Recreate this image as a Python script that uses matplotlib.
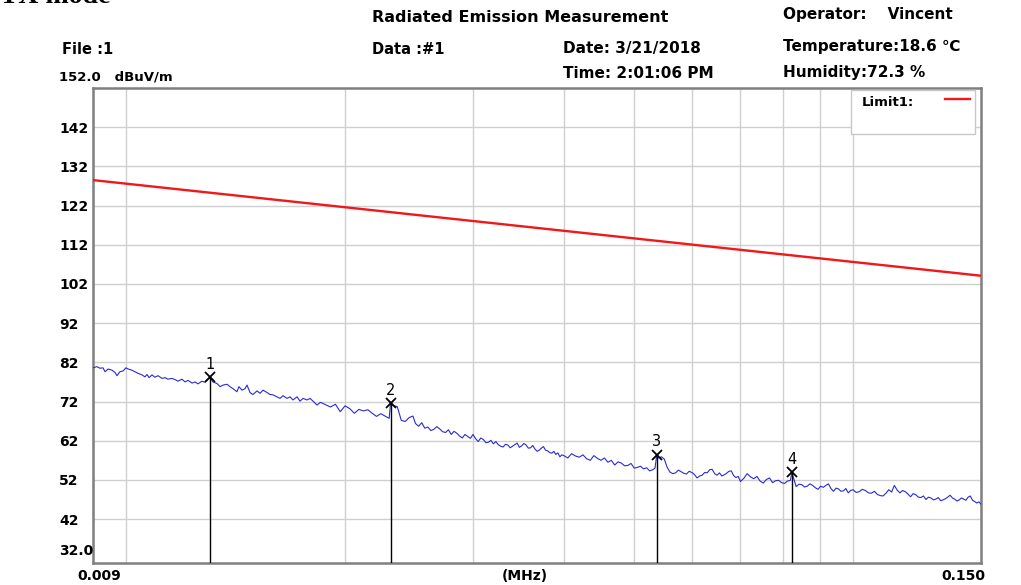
""" Radiated emission scan, 9 kHz - 150 kHz """

import matplotlib
matplotlib.use("Agg")
from matplotlib import pyplot as plt
from matplotlib.ticker import NullLocator
from matplotlib.patches import Rectangle
from matplotlib.lines import Line2D

W, H = 1021, 585

traceKHz = [
  9.00, 9.11, 9.20, 9.29, 9.35, 9.44, 9.56, 9.65, 9.71, 9.80,
  9.90, 9.99, 10.06, 10.18, 10.28, 10.38, 10.51, 10.61, 10.68, 10.75,
  10.85, 10.95, 11.06, 11.20, 11.31, 11.41, 11.56, 11.67, 11.78, 11.93,
  12.05, 12.16, 12.32, 12.43, 12.55, 12.71, 12.83, 12.96, 13.04, 13.16,
  13.33, 13.46, 13.59, 13.76, 13.89, 14.02, 14.20, 14.29, 14.43, 14.57,
  14.66, 14.80, 14.94, 15.13, 15.28, 15.42, 15.62, 15.77, 15.92, 16.12,
  16.28, 16.43, 16.64, 16.80, 16.96, 17.18, 17.34, 17.51, 17.73, 17.90,
  18.07, 18.30,
  18.5, 18.8, 19.1, 19.4, 19.7, 20.0, 20.3, 20.6, 20.9, 21.2,
  21.5, 21.8, 22.1, 22.4, 22.7, 23.0, 23.1, 23.3, 23.6, 23.9,
  24.2, 24.5, 24.8,
  25.0, 25.25, 25.5, 25.75, 26.0, 26.25, 26.5, 26.75, 27.0, 27.25,
  27.5, 27.75, 28.0, 28.25, 28.5, 28.75, 29.0, 29.25, 29.5, 29.75,
  30.0, 30.25, 30.5, 30.75, 31.0, 31.25, 31.5, 31.75, 32.0, 32.25,
  32.5, 32.75, 33.0, 33.25, 33.5, 33.75, 34.0, 34.25, 34.5, 34.75,
  35.0, 35.25, 35.5, 35.75, 36.0, 36.25, 36.5, 36.75, 37.0, 37.25,
  37.5, 37.75, 38.0, 38.25, 38.5, 38.75, 39.0, 39.25, 39.5, 39.75,
  40.0, 40.5, 41.0, 41.5, 42.0, 42.5, 43.0, 43.5, 44.0, 44.5,
  45.0, 45.5, 46.0, 46.5, 47.0, 47.5, 48.0, 48.5, 49.0, 49.5,
  50.0, 50.5, 51.0, 51.5, 52.0, 52.5, 53.0, 53.4, 53.7, 54.0,
  54.5, 55.0, 55.5, 56.0, 56.5, 57.0, 57.5, 58.0, 58.5, 59.0,
  59.5, 60.0, 60.5, 61.0, 61.5, 62.0, 62.5, 63.0, 63.5, 64.0,
  64.5, 65.0, 65.5, 66.0, 66.5, 67.0, 67.5, 68.0, 68.5, 69.0, 69.5,
  70.0, 70.75, 71.5, 72.25, 73.0, 73.75, 74.5, 75.25, 76.0, 76.75,
  77.5, 78.25, 79.0, 79.75, 80.5, 81.25, 82.0, 82.4, 83.5, 84.25,
  85.0, 85.75, 86.5, 87.25, 88.0, 88.75, 89.5, 90.25, 91.0, 91.75,
  92.5, 93.25, 94.0, 94.75, 95.5, 96.25, 97.0, 97.75, 98.5, 99.25,
  100, 101, 102, 103, 104, 105, 106, 107, 108, 109,
  110, 111, 112, 113, 114, 115, 116, 117, 118, 119,
  120, 121, 122, 123, 124, 125, 126, 127, 128, 129,
  130, 131, 132, 133, 134, 135, 136, 137, 138, 139,
  140, 141, 142, 143, 144, 145, 146, 147, 148, 149, 150]
traceLevel = [
  80.6, 80.9, 80.5, 80.6, 79.6, 80.3, 80.0, 79.4, 78.6, 79.6,
  79.8, 80.6, 80.3, 80.0, 79.6, 79.2, 78.8, 78.3, 78.9, 78.1,
  78.8, 78.2, 78.6, 77.9, 78.1, 77.7, 77.9, 77.6, 77.2, 77.7,
  77.0, 77.4, 76.7, 77.0, 76.5, 77.2, 76.9, 77.7, 78.2, 77.0,
  76.6, 75.8, 76.2, 76.4, 75.8, 75.3, 74.5, 75.8, 74.9, 75.3,
  76.2, 74.3, 73.8, 74.7, 74.1, 74.9, 74.3, 73.8, 73.7, 73.2,
  72.8, 73.5, 72.8, 73.2, 72.4, 73.2, 72.1, 72.8, 72.4, 72.8,
  72.1, 71.1,
  71.8, 71.2, 70.6, 71.3, 69.4, 70.9, 70.2, 69.0, 70.0, 69.6,
  69.9, 69.0, 68.2, 68.9, 68.3, 67.7, 71.5, 71.0, 70.7, 67.2,
  66.9, 67.9, 68.3,
  66.4, 65.7, 66.6, 65.2, 65.5, 64.6, 64.9, 65.6, 65.0, 64.3,
  64.1, 64.8, 63.6, 64.4, 63.9, 63.2, 62.7, 63.6, 63.1, 62.6,
  63.6, 62.5, 61.8, 62.7, 62.3, 61.5, 61.6, 62.1, 61.2, 61.8,
  61.0, 60.6, 60.4, 61.1, 60.9, 60.2, 60.6, 61.0, 61.4, 60.3,
  60.7, 61.3, 60.9, 60.1, 60.2, 60.8, 59.9, 59.3, 59.6, 60.1,
  60.5, 59.6, 59.4, 59.0, 58.8, 59.3, 58.5, 58.9, 57.9, 58.4,
  58.2, 57.6, 58.7, 58.1, 57.8, 58.4, 57.4, 57.0, 58.2, 57.5,
  57.0, 57.6, 56.5, 57.0, 55.8, 56.6, 56.3, 55.6, 55.7, 56.2,
  55.0, 55.2, 55.5, 54.8, 55.1, 54.3, 54.6, 55.0, 58.4, 57.6,
  57.9, 57.3, 55.2, 54.0, 53.6, 53.8, 54.5, 54.1, 53.7, 53.5,
  54.2, 53.9, 53.4, 52.5, 53.0, 53.2, 53.9, 53.8, 54.6, 54.7,
  53.6, 53.2, 53.8, 53.0, 53.3, 53.7, 54.2, 54.3, 53.1, 52.6, 52.9,
  51.6, 52.4, 53.6, 52.8, 52.3, 52.9, 51.7, 51.2, 52.1, 52.5,
  51.3, 51.8, 51.9, 51.3, 51.1, 51.7, 51.9, 53.9, 50.3, 50.9,
  50.8, 50.2, 50.4, 51.0, 50.6, 50.0, 49.6, 50.4, 50.1, 50.6,
  51.0, 49.8, 49.1, 49.9, 49.7, 49.1, 49.2, 49.8, 48.7, 49.3,
  49.5, 48.8, 49.0, 49.6, 49.3, 48.7, 48.6, 49.1, 48.3, 48.0,
  47.9, 48.6, 49.5, 48.9, 50.6, 49.4, 48.7, 49.3, 49.0, 48.4,
  47.7, 48.5, 48.2, 47.6, 47.5, 47.9, 47.0, 47.6, 47.4, 46.9,
  47.1, 47.5, 46.7, 46.9, 47.2, 47.6, 48.1, 47.4, 47.1, 46.6,
  46.9, 47.4, 47.1, 46.8, 47.6, 47.9, 46.8, 46.5, 46.1, 46.4, 45.8]

limitKHz = [9.0, 150.0]
limitLevel = [128.5, 104.1]

markerNames = ['1', '2', '3', '4']
markerKHz = [13.04, 23.1, 53.7, 82.4]
markerLevel = [78.2, 71.5, 58.4, 53.9]

yTicks = [42, 52, 62, 72, 82, 92, 102, 112, 122, 132, 142]
xGrid = [0.01, 0.02, 0.03, 0.04, 0.05, 0.06, 0.07, 0.08, 0.09, 0.1]
yMin, yMax = 30.8, 152.0

textFont = 'DejaVu Sans'


def fx(px):
  return px / W


def fy(py):
  return 1 - py / H


fig = plt.figure(figsize=(W / 100, H / 100), dpi=100)
fig.patch.set_facecolor('white')
ax = fig.add_axes([fx(93), fy(563), 888 / W, 475 / H])

ax.set_xscale('log')
ax.set_xlim(0.009, 0.150)
ax.set_ylim(yMin, yMax)

# Grid
ax.set_xticks(xGrid)
ax.set_xticklabels([])
ax.xaxis.set_minor_locator(NullLocator())
ax.set_yticks(yTicks)
ax.set_yticklabels([str(v) for v in yTicks], fontsize=10, fontweight='bold', family=textFont)
for lab in ax.get_yticklabels():
  lab.set_horizontalalignment('left')
ax.tick_params(axis='both', length=0)
ax.tick_params(axis='y', pad=24.5)
ax.grid(True, color='#cfcfcf', lw=1.0)
ax.set_axisbelow(True)
for sp in ax.spines.values():
  sp.set_color('#7f7f7f')
  sp.set_linewidth(1.8)

# Data
limitMHz = [f / 1000 for f in limitKHz]
traceMHz = [f / 1000 for f in traceKHz]
markerMHz = [f / 1000 for f in markerKHz]

ax.plot(limitMHz, limitLevel, color='#f01818', lw=1.7, zorder=3)
ax.plot(traceMHz, traceLevel, color='#2b2bd4', lw=0.8, zorder=3)
ax.vlines(markerMHz, yMin, markerLevel, color='black', lw=1.0, zorder=4)
ax.plot(markerMHz, markerLevel, 'x', color='black', ms=7, mew=1.3, zorder=5)
for name, f, v in zip(markerNames, markerMHz, markerLevel):
  ax.annotate(name, (f, v), xytext=(0, 4), textcoords='offset points',
              ha='center', va='bottom', fontsize=10.5, family=textFont)

# Legend box
ax.add_patch(Rectangle((fx(851), fy(134)), (975 - 851) / W, (134 - 90) / H,
                       transform=fig.transFigure, facecolor='white',
                       edgecolor='#c8c8c8', lw=1.0, zorder=6))
fig.text(fx(862), fy(102), 'Limit1:', fontsize=9.5, fontweight='bold',
         family=textFont, va='center', ha='left', zorder=7)
fig.add_artist(Line2D([fx(945), fx(970)], [fy(99), fy(99)], color='#f01818', lw=1.7, zorder=7))

# Axis end labels
fig.text(fx(59), fy(77), '152.0   dBuV/m', fontsize=9.5, fontweight='bold', family=textFont, va='center', ha='left')
fig.text(fx(59), fy(551), '32.0', fontsize=10, fontweight='bold', family=textFont, va='center', ha='left')
fig.text(fx(99), fy(576), '0.009', fontsize=10, fontweight='bold', family=textFont, va='center', ha='center')
fig.text(fx(963), fy(576), '0.150', fontsize=10, fontweight='bold', family=textFont, va='center', ha='center')
fig.text(fx(525), fy(576), '(MHz)', fontsize=10, fontweight='bold', family=textFont, va='center', ha='center')

# Header
fig.text(fx(0), fy(3), 'TX mode', fontsize=20, fontweight='bold', family='Liberation Serif', va='baseline', ha='left')
fig.text(fx(372), fy(17), 'Radiated Emission Measurement', fontsize=11.5, fontweight='bold', family=textFont, va='center', ha='left')
fig.text(fx(783), fy(14), 'Operator:    Vincent', fontsize=11, fontweight='bold', family=textFont, va='center', ha='left')
fig.text(fx(62), fy(49), 'File :1', fontsize=10.5, fontweight='bold', family=textFont, va='center', ha='left')
fig.text(fx(372), fy(49), 'Data :#1', fontsize=10.5, fontweight='bold', family=textFont, va='center', ha='left')
fig.text(fx(563), fy(49), 'Date: 3/21/2018', fontsize=11, fontweight='bold', family=textFont, va='center', ha='left')
fig.text(fx(563), fy(74), 'Time: 2:01:06 PM', fontsize=11, fontweight='bold', family=textFont, va='center', ha='left')
fig.text(fx(783), fy(46), 'Temperature:18.6 \u2103', fontsize=11, fontweight='bold',
         family=[textFont, 'Noto Sans CJK SC'], va='center', ha='left')
fig.text(fx(783), fy(72), 'Humidity:72.3 %', fontsize=11, fontweight='bold', family=textFont, va='center', ha='left')

fig.savefig('out.png', dpi=100, facecolor='white')
